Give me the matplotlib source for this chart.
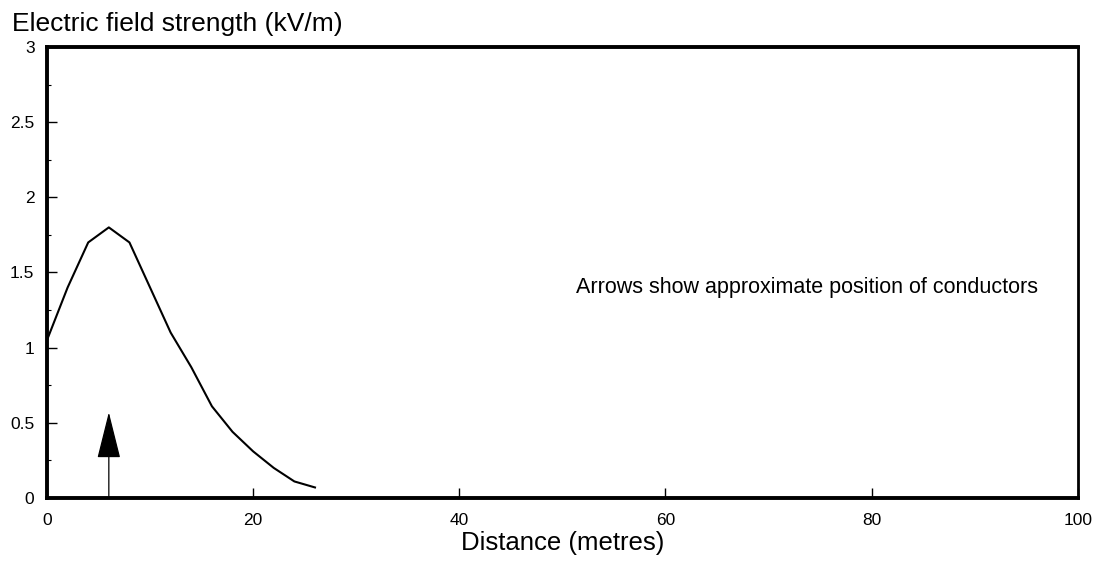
import matplotlib
matplotlib.use("Agg")
import matplotlib.pyplot as plt
from matplotlib.ticker import MultipleLocator

plt.rcParams['font.family'] = ['Liberation Sans', 'DejaVu Sans']

# Field strength profile across the line corridor
distance = [0, 2, 4, 6, 8, 10, 12, 14, 16, 18, 20, 22, 24, 26]
field_kv = [1.05, 1.4, 1.7, 1.8, 1.7, 1.4, 1.1, 0.87, 0.61, 0.44, 0.31, 0.2, 0.11, 0.07]

# Conductor position marker
conductor_x = 6
arrow_tip = 0.57

x_ticks = [0, 20, 40, 60, 80, 100]
y_ticks = [0, 0.5, 1, 1.5, 2, 2.5, 3]
y_tick_labels = ['0', '0.5', '1', '1.5', '2', '2.5', '3']

fig = plt.figure(figsize=(11.03, 5.63), dpi=100)
ax = fig.add_axes([0.0426, 0.1155, 0.9345, 0.801])

ax.plot(distance, field_kv, color='black', linewidth=1.5)

ax.annotate('', xy=(conductor_x, arrow_tip), xytext=(conductor_x, 0),
            arrowprops=dict(arrowstyle='-|>,head_length=3.0,head_width=0.75',
                            color='black', linewidth=0.9, shrinkA=0, shrinkB=0,
                            mutation_scale=10))

ax.text(51.3, 1.4, 'Arrows show approximate position of conductors',
        fontsize=15.5, ha='left', va='center')

ax.set_xlim(0, 100)
ax.set_ylim(0, 3)
ax.set_xticks(x_ticks)
ax.set_xticklabels([str(t) for t in x_ticks])
ax.set_yticks(y_ticks)
ax.set_yticklabels(y_tick_labels)
ax.yaxis.set_minor_locator(MultipleLocator(0.25))
ax.tick_params(axis='both', which='major', direction='in', length=7, width=1,
               labelsize=12.5)
ax.tick_params(axis='x', pad=11)
ax.tick_params(axis='y', pad=9)
ax.tick_params(axis='y', which='minor', direction='in', length=3, width=0.8)

for side in ['left', 'bottom', 'top']:
    ax.spines[side].set_linewidth(2.8)
ax.spines['right'].set_linewidth(2.0)

ax.set_xlabel('Distance (metres)', fontsize=18.5, labelpad=2)
fig.text(0.011, 0.957, 'Electric field strength (kV/m)', fontsize=19,
         ha='left', va='center')

fig.savefig('out.png', dpi=100)
